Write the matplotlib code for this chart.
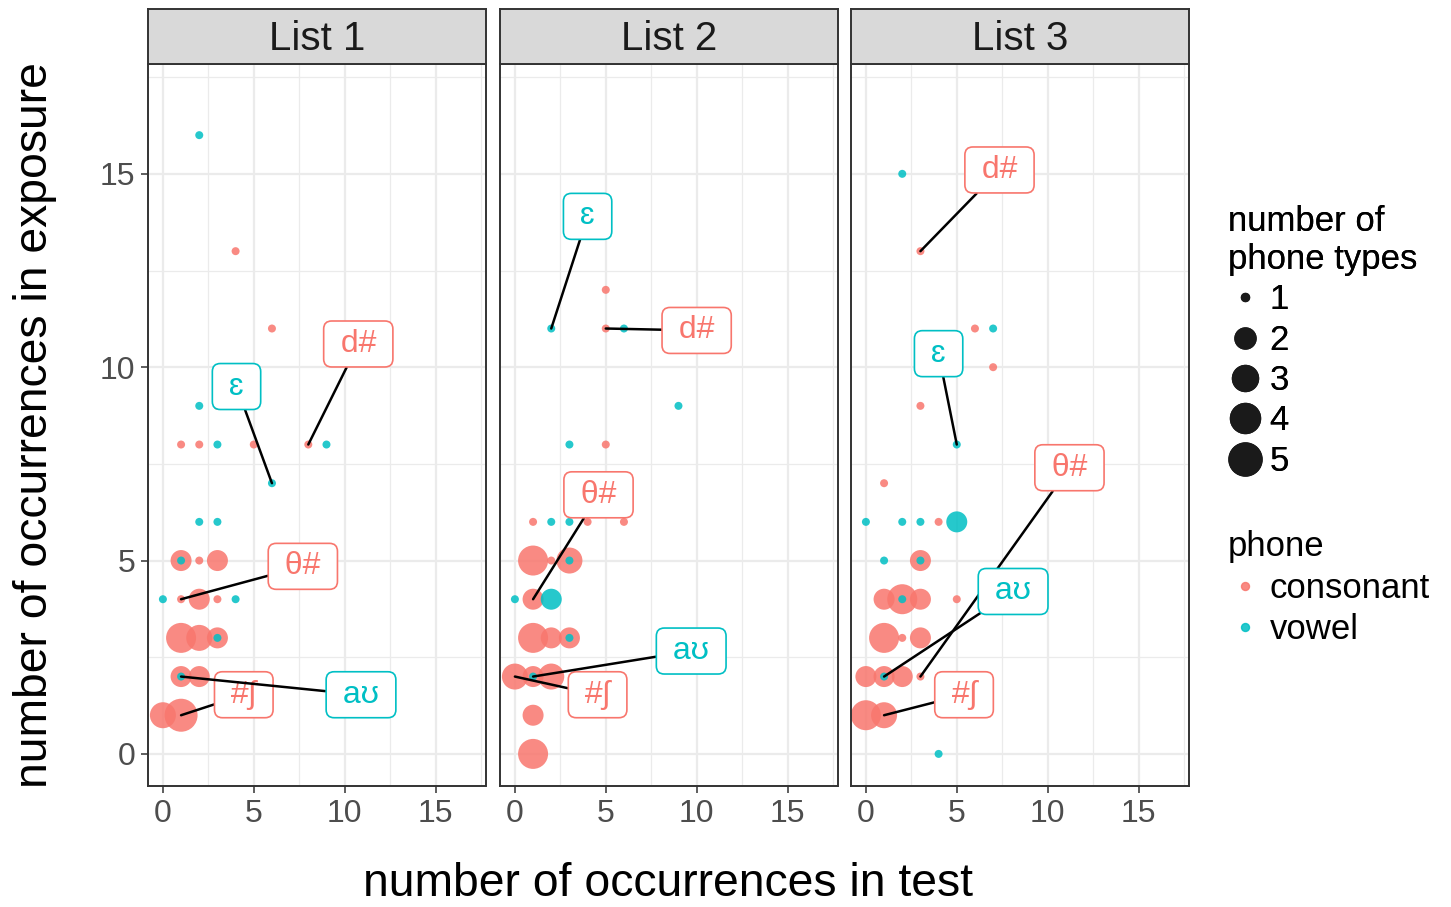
import matplotlib
matplotlib.use("Agg")
import matplotlib.pyplot as plt
from matplotlib.lines import Line2D

plt.rcParams['font.family'] = ['Liberation Sans', 'DejaVu Sans']

panels = ['List 1', 'List 2', 'List 3']

# List 1: test count, exposure count, number of phone types, phone (c/v)
l1_test = [1, 2, 5, 8, 4, 6, 3, 1, 2, 3, 1, 2, 3, 1, 2, 3, 1, 2, 0, 1,
           2, 2, 3, 9, 6, 2, 3, 1, 0, 4, 3, 1]
l1_expo = [8, 8, 8, 8, 13, 11, 9, 5, 5, 5, 4, 4, 4, 3, 3, 3, 2, 2, 1, 1,
           16, 9, 8, 8, 7, 6, 6, 5, 4, 4, 3, 2]
l1_ntyp = [1, 1, 1, 1, 1, 1, 1, 2, 1, 2, 1, 2, 1, 4, 3, 2, 2, 2, 3, 5,
           1, 1, 1, 1, 1, 1, 1, 1, 1, 1, 1, 1]
l1_phone = ['c'] * 20 + ['v'] * 12

# List 2
l2_test = [5, 5, 5, 1, 4, 6, 1, 2, 3, 1, 1, 2, 3, 0, 1, 2, 1, 1,
           2, 6, 9, 3, 2, 3, 3, 0, 2, 3, 1]
l2_expo = [12, 11, 8, 6, 6, 6, 5, 5, 5, 4, 3, 3, 3, 2, 2, 2, 1, 0,
           11, 11, 9, 8, 6, 6, 5, 4, 4, 3, 2]
l2_ntyp = [1, 1, 1, 1, 1, 1, 4, 1, 3, 2, 4, 2, 2, 3, 2, 3, 2, 4,
           1, 1, 1, 1, 1, 1, 1, 1, 2, 1, 1]
l2_phone = ['c'] * 18 + ['v'] * 11

# List 3
l3_test = [3, 6, 7, 3, 1, 4, 3, 1, 2, 3, 5, 1, 2, 3, 0, 1, 2, 3, 0, 1,
           2, 7, 5, 0, 2, 3, 5, 1, 3, 2, 1, 4]
l3_expo = [13, 11, 10, 9, 7, 6, 5, 4, 4, 4, 4, 3, 3, 3, 2, 2, 2, 2, 1, 1,
           15, 11, 8, 6, 6, 6, 6, 5, 5, 4, 2, 0]
l3_ntyp = [1, 1, 1, 1, 1, 1, 2, 2, 4, 2, 1, 4, 1, 2, 2, 2, 2, 1, 4, 3,
           1, 1, 1, 1, 1, 1, 2, 1, 1, 1, 1, 1]
l3_phone = ['c'] * 20 + ['v'] * 12

# labelled phones: text, phone, point (test, exposure), label position
l1_lab = ['d#', 'ɛ', 'θ#', '#ʃ', 'aʊ']
l1_lab_phone = ['c', 'v', 'c', 'c', 'v']
l1_lab_pt = [(8, 8), (6, 7), (1, 4), (1, 1), (1, 2)]
l1_lab_pos = [(10.75, 10.6), (4.05, 9.5), (7.7, 4.85), (4.45, 1.53), (10.9, 1.53)]

l2_lab = ['ɛ', 'd#', 'θ#', '#ʃ', 'aʊ']
l2_lab_phone = ['v', 'c', 'c', 'c', 'v']
l2_lab_pt = [(2, 11), (5, 11), (1, 4), (0, 2), (1, 2)]
l2_lab_pos = [(4.0, 13.9), (10.0, 10.95), (4.6, 6.7), (4.55, 1.53), (9.7, 2.66)]

l3_lab = ['d#', 'ɛ', 'θ#', 'aʊ', '#ʃ']
l3_lab_phone = ['c', 'v', 'c', 'v', 'c']
l3_lab_pt = [(3, 13), (5, 8), (3, 2), (1, 2), (1, 1)]
l3_lab_pos = [(7.35, 15.1), (4.0, 10.35), (11.2, 7.4), (8.1, 4.2), (5.4, 1.53)]

size_levels = [1, 2, 3, 4, 5]
phone_names = ['consonant', 'vowel']

colors = {'c': '#F8766D', 'v': '#00BFC4'}
diam_px = {1: 8, 2: 21, 3: 26, 4: 30, 5: 33}


def msize(n):
    return (diam_px[n] * 0.72) ** 2


data = [
    (l1_test, l1_expo, l1_ntyp, l1_phone, l1_lab, l1_lab_phone, l1_lab_pt, l1_lab_pos),
    (l2_test, l2_expo, l2_ntyp, l2_phone, l2_lab, l2_lab_phone, l2_lab_pt, l2_lab_pos),
    (l3_test, l3_expo, l3_ntyp, l3_phone, l3_lab, l3_lab_phone, l3_lab_pt, l3_lab_pos),
]

W, H = 1451, 907
fig = plt.figure(figsize=(W / 100, H / 100), dpi=100)

lefts = [148, 500, 851]
pw = 337.5
top, bot = 64, 786
strip_h = 55
dark = '#333333'

for i, (name, d) in enumerate(zip(panels, data)):
    tx, ex, nt, ph, lab, lph, lpt, lpos = d
    ax = fig.add_axes([lefts[i] / W, (H - bot) / H, pw / W, (bot - top) / H])
    for phone in ['c', 'v']:
        xs = [x for x, p in zip(tx, ph) if p == phone]
        ys = [y for y, p in zip(ex, ph) if p == phone]
        ss = [msize(n) for n, p in zip(nt, ph) if p == phone]
        ax.scatter(xs, ys, s=ss, color=colors[phone], alpha=0.85,
                   linewidths=0, zorder=2)
    for t, p, pt, pos in zip(lab, lph, lpt, lpos):
        ax.annotate(' ' + t + ' ', xy=pt, xytext=pos, color=colors[p],
                    fontsize=23, ha='center', va='center', zorder=5,
                    bbox=dict(boxstyle='round,pad=0.25,rounding_size=0.25',
                              fc='white', ec=colors[p], lw=1.2),
                    arrowprops=dict(arrowstyle='-', color='black', lw=1.8,
                                    shrinkA=0, shrinkB=0))
    ax.set_xlim(-0.82, 17.75)
    ax.set_ylim(-0.83, 17.84)
    ax.set_xticks([0, 5, 10, 15])
    ax.set_yticks([0, 5, 10, 15])
    ax.set_xticks([2.5, 7.5, 12.5, 17.5], minor=True)
    ax.set_yticks([2.5, 7.5, 12.5, 17.5], minor=True)
    ax.grid(which='major', color='#EBEBEB', lw=1.6, zorder=0)
    ax.grid(which='minor', color='#EBEBEB', lw=0.9, zorder=0)
    ax.set_axisbelow(True)
    ax.tick_params(which='major', length=5, width=1.1, color=dark,
                   labelsize=23, labelcolor='#4D4D4D', pad=4)
    ax.tick_params(which='minor', length=0)
    if i > 0:
        ax.tick_params(axis='y', which='major', length=0, labelleft=False)
    for s in ax.spines.values():
        s.set_color(dark)
        s.set_linewidth(1.4)

    sax = fig.add_axes([lefts[i] / W, (H - top) / H, pw / W, strip_h / H])
    sax.set_facecolor('#D9D9D9')
    sax.set_xticks([])
    sax.set_yticks([])
    for s in sax.spines.values():
        s.set_color(dark)
        s.set_linewidth(1.4)
    sax.text(0.5, 0.255, name, ha='center', va='baseline', fontsize=29,
             color='#1A1A1A', transform=sax.transAxes)

fig.text(668 / W, 1 - 896 / H, 'number of occurrences in test',
         ha='center', va='baseline', fontsize=33.3)
fig.text(35 / W, 1 - 425 / H, 'number of occurrences in exposure',
         ha='center', va='center', fontsize=33.3, rotation=90)

size_handles = [Line2D([], [], marker='o', linestyle='', color='#1A1A1A',
                       markersize=diam_px[n] * 0.72) for n in size_levels]
leg1 = fig.legend(size_handles, [str(n) for n in size_levels],
                  title='number of\nphone types', loc='upper left',
                  bbox_to_anchor=(1228 / W, 1 - 205 / H), frameon=False,
                  fontsize=25, title_fontsize=25, alignment='left',
                  handlelength=1.0, handletextpad=0.2, labelspacing=0.21,
                  borderpad=0, borderaxespad=0)

phone_handles = [Line2D([], [], marker='o', linestyle='', color=colors[p],
                        alpha=0.85, markersize=diam_px[1] * 0.72)
                 for p in ['c', 'v']]
leg2 = fig.legend(phone_handles, phone_names, title='phone', loc='upper left',
                  bbox_to_anchor=(1228 / W, 1 - 530 / H), frameon=False,
                  fontsize=25, title_fontsize=25, alignment='left',
                  handlelength=1.0, handletextpad=0.2, labelspacing=0.25,
                  borderpad=0, borderaxespad=0)
fig.add_artist(leg1)

fig.savefig('out.png', dpi=100)
